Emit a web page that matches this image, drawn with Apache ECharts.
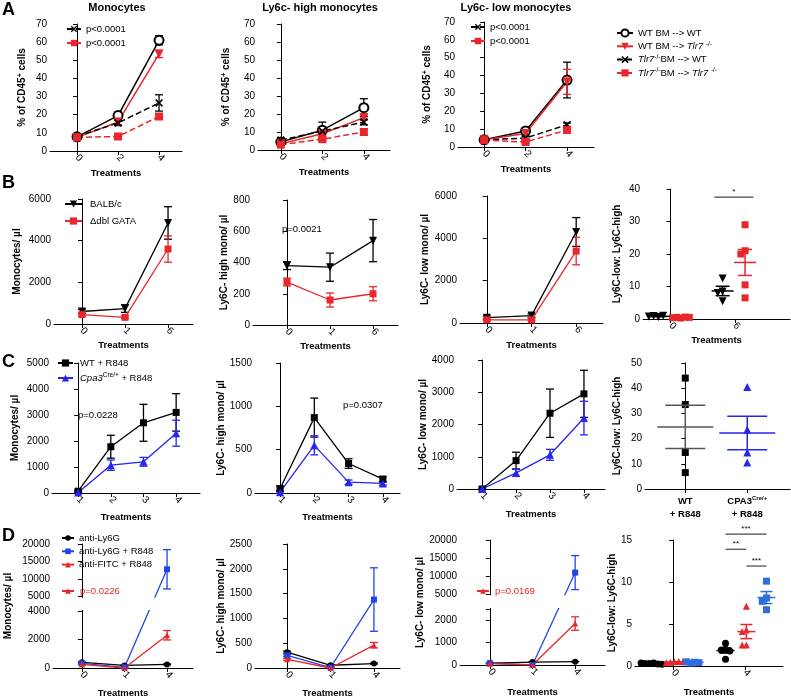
<!DOCTYPE html>
<html>
<head>
<meta charset="utf-8">
<title>Monocyte subsets after R848</title>
<script src="https://cdn.jsdelivr.net/npm/echarts@6/dist/echarts.min.js"></script>
<style>
  html, body { margin: 0; padding: 0; background: #fff; }
  #chart { width: 791px; height: 699px; }
</style>
</head>
<body>
<div id="chart"></div>
<script>
// ---------- data (mean and SEM) ----------
// A: % of CD45+ cells
const treatA = ['0', '2', '4'];
const aMonoWtWt = [7.8, 19.5, 61],  aMonoWtWtErr = [0.8, 2, 2.5];
const aMonoWtTlr = [7.5, 16, 53.5], aMonoWtTlrErr = [0.8, 1.5, 2];
const aMonoTlrWt = [8, 15.5, 26.5], aMonoTlrWtErr = [1, 1.5, 4.5];
const aMonoTlrTlr = [7.5, 8, 19],   aMonoTlrTlrErr = [0.8, 1, 1.5];
const aHiWtWt = [4.5, 11, 23.5],    aHiWtWtErr = [1, 4.5, 5];
const aHiWtTlr = [3.5, 9, 18],      aHiWtTlrErr = [0.8, 1.5, 1.5];
const aHiTlrWt = [5.5, 10.5, 15.5], aHiTlrWtErr = [1, 2, 1.5];
const aHiTlrTlr = [3, 6, 10],       aHiTlrTlrErr = [0.5, 1, 1.5];
const aLoWtWt = [4, 9, 37.5],       aLoWtWtErr = [0.5, 1.5, 10];
const aLoWtTlr = [4, 7.5, 36.5],    aLoWtTlrErr = [0.5, 1, 7];
const aLoTlrWt = [4, 5, 12.5],      aLoTlrWtErr = [0.5, 0.8, 1];
const aLoTlrTlr = [3.8, 2.8, 9.5],  aLoTlrTlrErr = [0.5, 0.5, 1];

// B: BALB/c vs dblGATA
const treatB = ['0', '1', '6'];
const bMonoBalb = [600, 740, 4850], bMonoBalbErr = [100, 180, 780];
const bMonoGata = [450, 320, 3600], bMonoGataErr = [80, 60, 630];
const bHiBalb = [380, 370, 540],    bHiBalbErr = [25, 90, 135];
const bHiGata = [275, 160, 200],    bHiGataErr = [25, 45, 45];
const bLoBalb = [250, 350, 4300],   bLoBalbErr = [80, 80, 680];
const bLoGata = [150, 150, 3400],   bLoGataErr = [50, 50, 650];
const treatBRatio = ['0', '6'];
const bRatioBalb = [[0.6, 0.9, 1.0, 0.8], [12.5, 8.5, 8, 5.5]];
const bRatioGata = [[0.3, 0.5, 0.6, 0.4, 0.5], [29, 21, 20, 10.5, 6.5]];
const bRatioSig = [[1, 0, 1, 37.5, '*']]; // [category, group a, group b, y, label]

// C: WT vs Cpa3Cre/+ with R848
const treatC = ['1', '2', '3', '4'];
const cMonoWt = [70, 1780, 2700, 3100], cMonoWtErr = [40, 440, 710, 720];
const cMonoCpa = [20, 1070, 1200, 2300], cMonoCpaErr = [20, 200, 170, 500];
const cHiWt = [50, 870, 340, 160],      cHiWtErr = [30, 225, 55, 30];
const cHiCpa = [10, 550, 125, 110],     cHiCpaErr = [10, 110, 25, 20];
const cLoWt = [0, 880, 2350, 2950],     cLoWtErr = [20, 260, 750, 730];
const cLoCpa = [0, 500, 1060, 2200],    cLoCpaErr = [20, 110, 170, 520];
const cRatioCats = ['WT\n+ R848', 'CPA3^Cre/+\n+ R848'];
const cRatioWt = [44, 33.5, 14.5, 6.5];
const cRatioCpa = [40.5, 23.5, 14.5, 10.5];

// D: neutrophil depletion
const treatD = ['0', '1', '4'];
const dMonoLy6g = [400, 180, 250],    dMonoLy6gErr = [30, 20, 30];
const dMonoLy6gR = [330, 50, 12800],  dMonoLy6gRErr = [40, 20, 5600];
const dMonoFitc = [250, 0, 2300],     dMonoFitcErr = [30, 10, 330];
const dHiLy6g = [320, 55, 90],        dHiLy6gErr = [20, 10, 10];
const dHiLy6gR = [255, 10, 1380],     dHiLy6gRErr = [20, 5, 640];
const dHiFitc = [175, 0, 460],        dHiFitcErr = [20, 5, 55];
const dLoLy6g = [80, 130, 150],       dLoLy6gErr = [10, 10, 10];
const dLoLy6gR = [80, 0, 11000],      dLoLy6gRErr = [10, 0, 4700];
const dLoFitc = [60, 0, 1850],        dLoFitcErr = [10, 0, 300];
const dMonoTicks = [0, 2000, 4000, 5000, 10000, 15000, 20000];
const dLoTicks = [0, 1000, 2000, 5000, 10000, 15000, 20000];
const treatDRatio = ['0', '4'];
const dRatioLy6g = [[0.35, 0.3, 0.25, 0.3, 0.2, 0.35], [2.7, 2.0, 1.9, 1.8, 0.8]];
const dRatioFitc = [[0.5, 0.45, 0.55, 0.4, 0.5], [7.1, 4.3, 4.1, 2.5, 2.5]];
const dRatioLy6gR = [[0.45, 0.35, 0.4, 0.5], [10.1, 8.1, 7.7, 6.7]];
const dRatioSig = [[1, 0, 2, 15.7, '***'], [1, 0, 1, 13.9, '**'], [1, 1, 2, 11.9, '***']];

// ---------- styles ----------
const FONT = '"Liberation Sans", Arial, sans-serif';
const RED = '#e8262b';
const BLUE = '#2626ee';
const DBLUE = '#1f45e4';
const LBLUE = '#2f6ede';
const X_SYMBOL = 'path://M0,1.5L1.5,0L5,3.5L8.5,0L10,1.5L6.5,5L10,8.5L8.5,10L5,6.5L1.5,10L0,8.5L3.5,5Z';
const AX = { color: '#000', width: 1 };
const RICH = {
    i: { fontStyle: 'italic', fontSize: 9.5, fontFamily: FONT, color: '#000' },
    s: { fontSize: 6.5, fontFamily: FONT, color: '#000', verticalAlign: 'top' }
};

const sWtWt = { name: 'WT BM --> WT', color: '#000', symbol: 'emptyCircle', size: 9, border: 1.5 };
const sWtTlr = { name: 'WT BM --> Tlr7-/-', color: RED, symbol: 'triangle', rotate: 180, size: 9 };
const sTlrWt = { name: 'Tlr7-/-BM --> WT', color: '#000', symbol: X_SYMBOL, size: 8, dashed: true };
const sTlrTlr = { name: 'Tlr7-/-BM --> Tlr7-/-', color: RED, symbol: 'rect', size: 8, dashed: true };
const sBalb = { name: 'BALB/c', color: '#000', symbol: 'triangle', rotate: 180, size: 8, width: 1.3 };
const sGata = { name: 'Δdbl GATA', color: RED, symbol: 'rect', size: 7, width: 1.3 };
const sWt = { name: 'WT + R848', color: '#000', symbol: 'rect', size: 7, width: 1.3 };
const sCpa = { name: 'Cpa3Cre/+ + R848', color: BLUE, symbol: 'triangle', size: 8, width: 1.3 };
const sLy6g = { name: 'anti-Ly6G', color: '#000', symbol: 'circle', size: 6, width: 1.3 };
const sLy6gR = { name: 'anti-Ly6G + R848', color: DBLUE, symbol: 'rect', size: 6, width: 1.3 };
const sFitc = { name: 'anti-FITC + R848', color: RED, symbol: 'triangle', size: 6, width: 1.3 };

// ---------- builders ----------
const grids = [], xAxes = [], yAxes = [], series = [];

function brokenScale(lowMax, highMin, top, lowFrac, highFrac, labels, ticks) {
    const t = v => v <= lowMax ? v / lowMax * lowFrac
        : v >= highMin ? highFrac + (v - highMin) / (top - highMin) * (1 - highFrac)
        : lowFrac + (v - lowMax) / (highMin - lowMax) * (highFrac - lowFrac);
    return { t, lowMax, highMin, labels, ticks: ticks || labels };
}

function xAxisFor(gi, p) {
    const idx = p.cats.map((c, i) => i);
    return {
        gridIndex: gi, type: 'value', min: p.xRange[0], max: p.xRange[1],
        axisLine: { show: true, onZero: false, lineStyle: AX },
        axisTick: { show: true, customValues: idx, length: 4, lineStyle: AX },
        axisLabel: {
            customValues: idx, rotate: p.flat ? 0 : -45, margin: p.flat ? 6 : 5,
            color: '#000', fontSize: p.flat ? 9.5 : 10, fontFamily: FONT,
            fontWeight: p.flat ? 'bold' : 'normal', lineHeight: 13,
            formatter: v => p.cats[Math.round(v)].replace(/\^([^\s]+)/g, '{s|$1}'),
            rich: { s: { fontSize: 6, fontWeight: 'bold', fontFamily: FONT, color: '#000', verticalAlign: 'top' } }
        },
        splitLine: { show: false },
        name: p.flat ? '' : 'Treatments', nameLocation: 'middle', nameGap: p.xGap,
        nameTextStyle: { fontWeight: 'bold', fontSize: 9.5, fontFamily: FONT, color: '#000' }
    };
}

function yAxisFor(gi, p) {
    const ax = {
        gridIndex: gi, type: 'value', min: 0, max: p.yMax, interval: p.yStep,
        axisLine: { show: true, lineStyle: AX },
        axisTick: { show: true, length: 4, lineStyle: AX },
        axisLabel: { color: '#000', fontSize: 10, fontFamily: FONT, margin: 3, formatter: v => String(v) },
        splitLine: { show: false },
        name: p.yName, nameLocation: 'middle', nameGap: p.yGap,
        nameTextStyle: {
            fontWeight: 'bold', fontSize: 10, fontFamily: FONT, color: '#000',
            rich: { sup: { fontSize: 7, fontWeight: 'bold', fontFamily: FONT, color: '#000', verticalAlign: 'top' } }
        }
    };
    if (p.brk) {
        const b = p.brk;
        ax.max = 1;
        delete ax.interval;
        ax.axisLabel.customValues = b.labels.map(b.t);
        ax.axisLabel.formatter = v => {
            const k = b.labels.find(l => Math.abs(b.t(l) - v) < 1e-6);
            return k === undefined ? '' : String(k);
        };
        ax.axisTick.customValues = b.ticks.map(b.t);
    }
    return ax;
}

function addGrid(p) {
    const gi = grids.length;
    grids.push({ left: p.box[0], top: p.box[1], width: p.box[2], height: p.box[3], containLabel: false, outerBoundsMode: 'none' });
    xAxes.push(xAxisFor(gi, p));
    yAxes.push(yAxisFor(gi, p));
    return gi;
}

function seg(x1, y1, x2, y2, st) {
    return { type: 'line', shape: { x1, y1, x2, y2 }, style: st };
}

function linePanel(p) {
    const gi = addGrid(p);
    const t = p.brk ? p.brk.t : v => v;
    p.groups.forEach(([st, vals, errs]) => {
        series.push({
            type: 'custom', xAxisIndex: gi, yAxisIndex: gi, silent: true, z: 2,
            data: vals.map((v, i) => [i, v, errs[i]]),
            renderItem: (params, api) => {
                const x = api.value(0), m = api.value(1), e = api.value(2);
                if (!e) return null;
                const hi = api.coord([x, t(m + e)]), lo = api.coord([x, t(Math.max(0, m - e))]);
                const s = { stroke: st.color, lineWidth: 1.3 };
                return { type: 'group', children: [
                    seg(hi[0], hi[1], lo[0], lo[1], s),
                    seg(hi[0] - 4, hi[1], hi[0] + 4, hi[1], s),
                    seg(lo[0] - 4, lo[1], lo[0] + 4, lo[1], s)
                ] };
            }
        });
        series.push({
            type: 'line', name: st.name, xAxisIndex: gi, yAxisIndex: gi, z: 3,
            data: vals.map((v, i) => [i, t(v)]),
            symbol: st.symbol, symbolSize: st.size, symbolRotate: st.rotate || 0,
            lineStyle: { color: st.color, width: st.width || 1.5, type: st.dashed ? [6, 3] : 'solid' },
            itemStyle: { color: st.color, borderColor: st.color, borderWidth: st.border || 0 },
            emphasis: { disabled: true }
        });
    });
    if (p.brk) {
        // white band over the axis break
        const b = p.brk;
        series.push({
            type: 'custom', xAxisIndex: gi, yAxisIndex: gi, silent: true, z: 6,
            data: [[p.xRange[0], b.t(b.lowMax), p.xRange[1], b.t(b.highMin)]],
            renderItem: (params, api) => {
                const a = api.coord([api.value(0), api.value(1)]);
                const c = api.coord([api.value(2), api.value(3)]);
                return { type: 'rect', shape: { x: a[0] - 1, y: c[1] + 1, width: c[0] - a[0] + 2, height: a[1] - c[1] - 2 }, style: { fill: '#fff' } };
            }
        });
    }
}

function swarm(vals, yPerPx, size) {
    const placed = [], step = size * 0.6;
    return vals.map(v => {
        const py = v / yPerPx;
        for (let k = 0; k < 12; k++) {
            const dx = (k % 2 ? -1 : 1) * Math.ceil(k / 2) * step;
            if (!placed.some(q => Math.abs(q[0] - dx) < step * 0.9 && Math.abs(q[1] - py) < size * 0.8)) {
                placed.push([dx, py]);
                return dx;
            }
        }
        placed.push([0, py]);
        return 0;
    });
}

function dotPanel(p) {
    const gi = addGrid(p);
    const xPerPx = (p.xRange[1] - p.xRange[0]) / p.box[2];
    const yPerPx = p.yMax / p.box[3];
    p.groups.forEach(g => {
        const pts = [], stats = [];
        g.values.forEach((vals, ci) => {
            if (!vals) return;
            const cx = ci + g.offset;
            swarm(vals, yPerPx, g.size).forEach((dx, k) => pts.push([cx + dx * xPerPx, vals[k]]));
            const n = vals.length, mean = vals.reduce((a, b) => a + b, 0) / n;
            const sd = Math.sqrt(vals.reduce((a, b) => a + (b - mean) ** 2, 0) / (n - 1));
            stats.push([cx, mean, sd / Math.sqrt(n)]);
        });
        series.push({
            type: 'scatter', name: g.name, xAxisIndex: gi, yAxisIndex: gi, z: 3,
            data: pts, symbol: g.symbol, symbolSize: g.size, symbolRotate: g.rotate || 0,
            itemStyle: { color: g.color, opacity: 1 }, emphasis: { disabled: true }
        });
        series.push({
            type: 'custom', xAxisIndex: gi, yAxisIndex: gi, silent: true, z: 4,
            data: stats,
            renderItem: (params, api) => {
                const x = api.value(0), m = api.value(1), e = api.value(2);
                const c = api.coord([x, m]), hi = api.coord([x, m + e]), lo = api.coord([x, Math.max(0, m - e)]);
                const s = { stroke: g.barColor || g.color, lineWidth: 1.5 };
                return { type: 'group', children: [
                    seg(c[0] - p.meanHw, c[1], c[0] + p.meanHw, c[1], s),
                    seg(hi[0], hi[1], lo[0], lo[1], s),
                    seg(hi[0] - p.capHw, hi[1], hi[0] + p.capHw, hi[1], s),
                    seg(lo[0] - p.capHw, lo[1], lo[0] + p.capHw, lo[1], s)
                ] };
            }
        });
    });
    if (p.sig) {
        series.push({
            type: 'custom', xAxisIndex: gi, yAxisIndex: gi, silent: true, z: 4,
            data: p.sig.map(([ci, ga, gb, y]) => [ci + p.groups[ga].offset - p.sigPad, ci + p.groups[gb].offset + p.sigPad, y]),
            renderItem: (params, api) => {
                const a = api.coord([api.value(0), api.value(2)]), b = api.coord([api.value(1), api.value(2)]);
                return { type: 'group', children: [
                    seg(a[0], a[1], b[0], b[1], { stroke: '#444', lineWidth: 1.2 }),
                    { type: 'text', style: { text: p.sig[params.dataIndex][4], x: (a[0] + b[0]) / 2, y: a[1] - 1, align: 'center', verticalAlign: 'bottom', fontSize: 8, fontFamily: FONT, fill: '#000' } }
                ] };
            }
        });
    }
}

// ---------- row A ----------
const aYName = '% of CD45{sup|+} cells';
linePanel({ box: [50, 24, 132, 127], cats: treatA, xRange: [-0.66, 2.56], yMax: 70, yStep: 10, yName: aYName, yGap: 23, xGap: 17,
    groups: [[sWtWt, aMonoWtWt, aMonoWtWtErr], [sWtTlr, aMonoWtTlr, aMonoWtTlrErr], [sTlrWt, aMonoTlrWt, aMonoTlrWtErr], [sTlrTlr, aMonoTlrTlr, aMonoTlrTlrErr]] });
linePanel({ box: [258, 24, 132, 126], cats: treatA, xRange: [-0.55, 2.63], yMax: 70, yStep: 10, yName: aYName, yGap: 27, xGap: 17,
    groups: [[sWtWt, aHiWtWt, aHiWtWtErr], [sWtTlr, aHiWtTlr, aHiWtTlrErr], [sTlrWt, aHiTlrWt, aHiTlrWtErr], [sTlrTlr, aHiTlrTlr, aHiTlrTlrErr]] });
linePanel({ box: [458, 22, 136, 125], cats: treatA, xRange: [-0.63, 2.65], yMax: 70, yStep: 10, yName: aYName, yGap: 26, xGap: 17,
    groups: [[sWtWt, aLoWtWt, aLoWtWtErr], [sWtTlr, aLoWtTlr, aLoWtTlrErr], [sTlrWt, aLoTlrWt, aLoTlrWtErr], [sTlrTlr, aLoTlrTlr, aLoTlrTlrErr]] });

// ---------- row B ----------
linePanel({ box: [54, 199, 139, 125], cats: treatB, xRange: [-0.65, 2.58], yMax: 6000, yStep: 2000, yName: 'Monocytes/ µl', yGap: 32, xGap: 16,
    groups: [[sBalb, bMonoBalb, bMonoBalbErr], [sGata, bMonoGata, bMonoGataErr]] });
linePanel({ box: [253, 200, 145, 125], cats: treatB, xRange: [-0.79, 2.58], yMax: 800, yStep: 200, yName: 'Ly6C- high mono/ µl', yGap: 21, xGap: 16,
    groups: [[sBalb, bHiBalb, bHiBalbErr], [sGata, bHiGata, bHiGataErr]] });
linePanel({ box: [460, 196, 143, 127], cats: treatB, xRange: [-0.6, 2.6], yMax: 6000, yStep: 2000, yName: 'Ly6C- low mono/ µl', yGap: 30, xGap: 17,
    groups: [[sBalb, bLoBalb, bLoBalbErr], [sGata, bLoGata, bLoGataErr]] });
dotPanel({ box: [643, 189, 147, 130], cats: treatBRatio, xRange: [-0.43, 1.86], yMax: 40, yStep: 10, yName: 'Ly6C-low: Ly6C-high', yGap: 21, xGap: 16,
    meanHw: 11, capHw: 7, sig: bRatioSig, sigPad: 0.13,
    groups: [
        { name: 'B ratio BALB/c', values: bRatioBalb, offset: -0.19, color: '#000', symbol: 'triangle', rotate: 180, size: 8 },
        { name: 'B ratio dblGATA', values: bRatioGata, offset: 0.16, color: RED, symbol: 'rect', size: 7 }
    ] });

// ---------- row C ----------
linePanel({ box: [52, 363, 148, 130], cats: treatC, xRange: [-0.8, 3.73], yMax: 5000, yStep: 1000, yName: 'Monocytes/ µl', yGap: 32, xGap: 19,
    groups: [[sWt, cMonoWt, cMonoWtErr], [sCpa, cMonoCpa, cMonoCpaErr]] });
linePanel({ box: [255, 363, 145, 130], cats: treatC, xRange: [-0.73, 3.5], yMax: 1500, yStep: 500, yName: 'Ly6C- high mono/ µl', yGap: 25, xGap: 19,
    groups: [[sWt, cHiWt, cHiWtErr], [sCpa, cHiCpa, cHiCpaErr]] });
linePanel({ box: [457, 360, 148, 129], cats: treatC, xRange: [-0.74, 3.62], yMax: 4000, yStep: 1000, yName: 'Ly6C- low mono/ µl', yGap: 27, xGap: 20,
    groups: [[sWt, cLoWt, cLoWtErr], [sCpa, cLoCpa, cLoCpaErr]] });
dotPanel({ box: [645, 363, 145, 126], cats: cRatioCats, flat: true, xRange: [-0.65, 1.69], yMax: 50, yStep: 10, yName: 'Ly6C-low: Ly6C-high', yGap: 23,
    meanHw: 28, capHw: 20,
    groups: [
        { name: 'C ratio WT', values: [cRatioWt, null], offset: 0, color: '#000', barColor: '#555', symbol: 'rect', size: 7 },
        { name: 'C ratio Cpa3', values: [null, cRatioCpa], offset: 0, color: BLUE, symbol: 'triangle', size: 8 }
    ] });

// ---------- row D ----------
linePanel({ box: [53, 544, 140, 124], cats: treatD, xRange: [-0.68, 2.61], yName: 'Monocytes/ µl', yGap: 40, xGap: 20,
    brk: brokenScale(4000, 5000, 20000, 0.4595, 0.5754, dMonoTicks),
    groups: [[sLy6g, dMonoLy6g, dMonoLy6gErr], [sLy6gR, dMonoLy6gR, dMonoLy6gRErr], [sFitc, dMonoFitc, dMonoFitcErr]] });
linePanel({ box: [255, 544, 145, 124], cats: treatD, xRange: [-0.74, 2.6], yMax: 2500, yStep: 500, yName: 'Ly6C- high mono/ µl', yGap: 25, xGap: 20,
    groups: [[sLy6g, dHiLy6g, dHiLy6gErr], [sLy6gR, dHiLy6gR, dHiLy6gRErr], [sFitc, dHiFitc, dHiFitcErr]] });
linePanel({ box: [460, 540, 145, 125], cats: treatD, xRange: [-0.7, 2.7], yName: 'Ly6C- low mono/ µl', yGap: 30, xGap: 22,
    brk: brokenScale(2500, 5000, 20000, 0.448, 0.5656, dLoTicks, dLoTicks.concat([2500])),
    groups: [[sLy6g, dLoLy6g, dLoLy6gErr], [sLy6gR, dLoLy6gR, dLoLy6gRErr], [sFitc, dLoFitc, dLoFitcErr]] });
dotPanel({ box: [635, 540, 148, 126], cats: treatDRatio, xRange: [-0.53, 1.53], yMax: 15, yStep: 5, yName: 'Ly6C-low: Ly6C-high', yGap: 15, xGap: 21,
    meanHw: 9, capHw: 6, sig: dRatioSig, sigPad: 0,
    groups: [
        { name: 'D ratio anti-Ly6G', values: dRatioLy6g, offset: -0.27, color: '#000', symbol: 'circle', size: 7 },
        { name: 'D ratio anti-FITC', values: dRatioFitc, offset: 0.02, color: RED, symbol: 'triangle', size: 7 },
        { name: 'D ratio anti-Ly6G R848', values: dRatioLy6gR, offset: 0.3, color: LBLUE, symbol: 'rect', size: 7 }
    ] });

// ---------- legends ----------
const legendText = {
    'WT BM --> WT': 'WT BM --> WT',
    'WT BM --> Tlr7-/-': 'WT BM --> {i|Tlr7} {s|-/-}',
    'Tlr7-/-BM --> WT': '{i|Tlr7}{s|-/-}BM --> WT',
    'Tlr7-/-BM --> Tlr7-/-': '{i|Tlr7}{s|-/-}BM --> {i|Tlr7} {s|-/-}',
    'Cpa3Cre/+ + R848': '{i|Cpa3}{s|Cre/+} + R848'
};
function legend(left, top, names, opts) {
    opts = opts || {};
    return {
        left, top, orient: 'vertical', selectedMode: false, z: 10, padding: 0,
        itemWidth: opts.w || 14, itemHeight: opts.h || 8, itemGap: opts.gap || 2,
        data: names,
        formatter: opts.text ? () => opts.text : name => legendText[name] || name,
        textStyle: { fontSize: 9.5, fontFamily: FONT, color: opts.color || '#000', lineHeight: 12, padding: [0, 0, 0, opts.pad || 0], rich: RICH }
    };
}
const dashedA = [sTlrWt.name, sTlrTlr.name];
const legends = [
    legend(66, 23, dashedA, { text: 'p<0.0001' }),
    legend(470, 21, dashedA, { text: 'p<0.0001' }),
    legend(616, 27, [sWtWt.name, sWtTlr.name, sTlrWt.name, sTlrTlr.name], { w: 16, h: 9, gap: 1.3 }),
    legend(64, 198, [sBalb.name, sGata.name], { w: 17, h: 9, gap: 5, pad: 3 }),
    legend(57, 357, [sWt.name, sCpa.name], { w: 15, h: 9, gap: 3, pad: 2 }),
    legend(61, 532, [sLy6g.name, sLy6gR.name, sFitc.name], { w: 12, h: 7, gap: 1.3 }),
    legend(61, 585, [sFitc.name], { w: 12, h: 7, text: 'p=0.0226', color: RED, pad: 1 }),
    legend(476, 585, [sFitc.name], { w: 12, h: 7, text: 'p=0.0169', color: RED, pad: 1 })
];

// ---------- titles and notes ----------
const notes = [
    ['A', 2, 10, 'bold 18px', 'left'], ['B', 2, 183, 'bold 18px', 'left'],
    ['C', 2, 362, 'bold 18px', 'left'], ['D', 2, 536, 'bold 18px', 'left'],
    ['Monocytes', 117, 8, 'bold 11px', 'center'],
    ['Ly6c- high monocytes', 320, 8, 'bold 11px', 'center'],
    ['Ly6c- low monocytes', 516, 8, 'bold 11px', 'center'],
    ['p=0.0021', 282, 229, '9.5px', 'left'],
    ['p=0.0228', 78, 415, '9.5px', 'left'],
    ['p=0.0307', 343, 405, '9.5px', 'left']
];
const graphics = notes.map(([text, x, y, font, align]) => ({
    type: 'text', x, y, z: 20,
    style: { text, font: font + ' ' + FONT, fill: '#000', align, verticalAlign: 'middle' }
}));

const chart = echarts.init(document.getElementById('chart'), null, { renderer: 'canvas' });
chart.setOption({
    animation: false,
    backgroundColor: '#fff',
    textStyle: { fontFamily: FONT },
    grid: grids,
    xAxis: xAxes,
    yAxis: yAxes,
    legend: legends,
    graphic: graphics,
    series: series
});
</script>
</body>
</html>
